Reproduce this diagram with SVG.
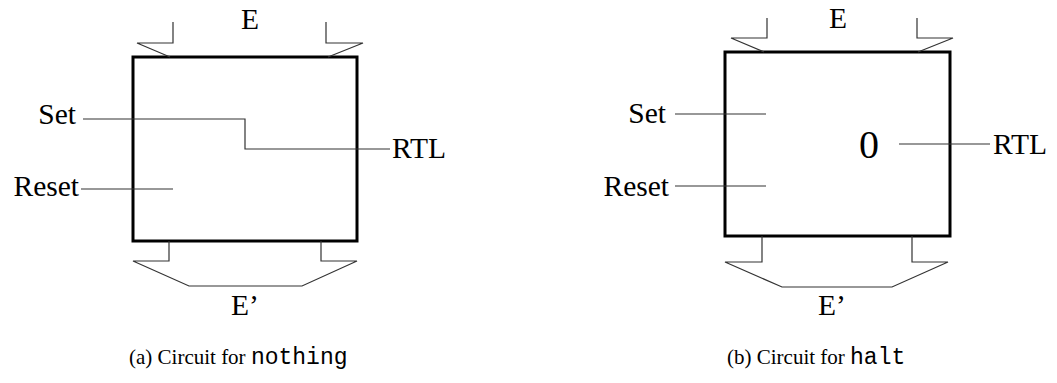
<svg xmlns="http://www.w3.org/2000/svg" width="1057" height="383" viewBox="0 0 1057 383">
<style>
.box{fill:none;stroke:#000;stroke-width:3}
.ln{fill:none;stroke:#333;stroke-width:1.2}
.t{font-family:"Liberation Serif","Times New Roman",serif;font-size:29.5px;fill:#000}
.big{font-size:40px}
.cap{font-family:"Liberation Serif","Times New Roman",serif;font-size:21px;fill:#000}
.mono{font-family:"Liberation Mono","Courier New",monospace;font-size:23px}
</style>
<rect width="1057" height="383" fill="#fff"/>
<g id="circuit-a">
<rect class="box" x="133" y="57" width="224" height="184"/>
<text class="t" x="250" y="29" text-anchor="middle">E</text>
<text class="t" x="245" y="315" text-anchor="middle">E’</text>
<text class="t" x="76" y="124" text-anchor="end">Set</text>
<text class="t" x="79" y="196" text-anchor="end">Reset</text>
<text class="t" x="392" y="158">RTL</text>
</g>
<g id="circuit-b">
<rect class="box" x="725" y="52" width="225" height="184"/>
<text class="t" x="838" y="28" text-anchor="middle">E</text>
<text class="t" x="832" y="315" text-anchor="middle">E’</text>
<text class="t" x="666" y="123" text-anchor="end">Set</text>
<text class="t" x="669" y="196" text-anchor="end">Reset</text>
<text class="t big" x="869" y="158" text-anchor="middle">0</text>
<text class="t" x="993" y="154">RTL</text>
</g>
<g id="connectors">
<path class="ln" d="M173,22V43H137L170,57"/>
<path class="ln" d="M326,22V43H363L328,57"/>
<path class="ln" d="M169,241V261H133L189,286H302L357,261H321V241"/>
<path class="ln" d="M83,119H245V149H390"/>
<path class="ln" d="M81,189H173"/>
<path class="ln" d="M767,18V38H731L764,52"/>
<path class="ln" d="M917,18V38H953L918,52"/>
<path class="ln" d="M762,236V262H725L782,287H892L948,262H912V236"/>
<path class="ln" d="M675,114H766"/>
<path class="ln" d="M675,186H766"/>
<path class="ln" d="M899,144H990"/>
</g>
<g id="captions">
<text class="cap" x="129" y="364">(a) Circuit for <tspan class="mono">nothing</tspan></text>
<text class="cap" x="727" y="364">(b) Circuit for <tspan class="mono">halt</tspan></text>
</g>
</svg>
